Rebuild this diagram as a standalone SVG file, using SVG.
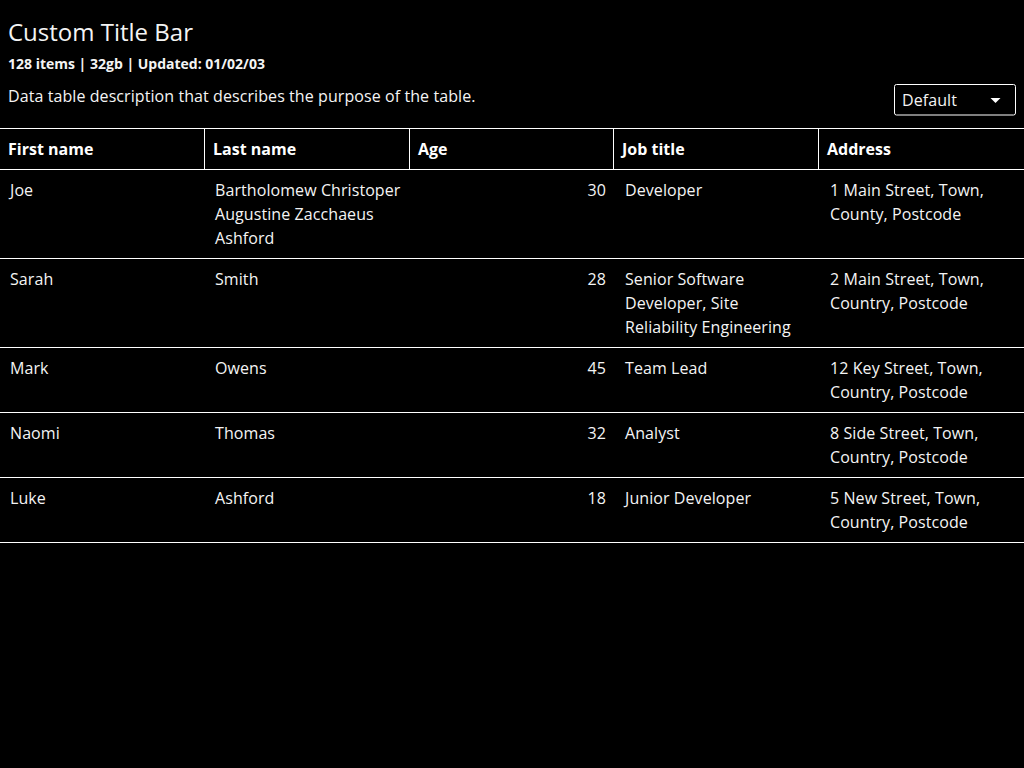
<svg xmlns="http://www.w3.org/2000/svg" width="1024" height="768" viewBox="0 0 1024 768">
<style>
text { font-family: "Open Sans", "Noto Sans", sans-serif; fill: #f4f4f4; }
.title { font-size: 24px; }
.meta { font-size: 14px; font-weight: 700; }
.desc { font-size: 16px; letter-spacing: 0.08px; }
.th { font-size: 16px; font-weight: 700; fill: #ffffff; }
.td { font-size: 16px; letter-spacing: 0.08px; }
.num { text-anchor: end; }
.rule { stroke: #ffffff; stroke-width: 1; fill: none; }
</style>
<rect x="0" y="0" width="1024" height="768" fill="#000000"/>
<g id="header">
<text class="title" x="8" y="41">Custom Title Bar</text>
<text class="meta" x="8" y="68.5">128 items | 32gb | Updated: 01/02/03</text>
<text class="desc" x="8" y="102">Data table description that describes the purpose of the table.</text>
</g>
<g id="dropdown">
<rect x="894.5" y="84.5" width="121" height="30.5" rx="2" fill="#000000" stroke="#ffffff" stroke-width="1"/>
<text class="td" x="902" y="105.5">Default</text>
<polygon points="990.5,98 1000.5,98 995.5,103" fill="#ffffff"/>
</g>
<g id="grid">
<line class="rule" x1="0" y1="128.5" x2="1024" y2="128.5"/>
<line class="rule" x1="0" y1="169.5" x2="1024" y2="169.5"/>
<line class="rule" x1="204.5" y1="128.5" x2="204.5" y2="169.5"/>
<line class="rule" x1="409.5" y1="128.5" x2="409.5" y2="169.5"/>
<line class="rule" x1="613.5" y1="128.5" x2="613.5" y2="169.5"/>
<line class="rule" x1="818.5" y1="128.5" x2="818.5" y2="169.5"/>
<line class="rule" x1="0" y1="258.5" x2="1024" y2="258.5"/>
<line class="rule" x1="0" y1="347.5" x2="1024" y2="347.5"/>
<line class="rule" x1="0" y1="412.5" x2="1024" y2="412.5"/>
<line class="rule" x1="0" y1="477.5" x2="1024" y2="477.5"/>
<line class="rule" x1="0" y1="542.5" x2="1024" y2="542.5"/>
</g>
<g id="table-head">
<text class="th" x="8" y="155">First name</text>
<text class="th" x="213" y="155">Last name</text>
<text class="th" x="418" y="155">Age</text>
<text class="th" x="622" y="155">Job title</text>
<text class="th" x="827" y="155">Address</text>
</g>
<g id="row-1">
<text class="td" x="10" y="196">Joe</text>
<text class="td" x="215" y="196">Bartholomew Christoper</text>
<text class="td" x="215" y="220">Augustine Zacchaeus</text>
<text class="td" x="215" y="244">Ashford</text>
<text class="td num" x="606" y="196">30</text>
<text class="td" x="625" y="196">Developer</text>
<text class="td" x="830" y="196">1 Main Street, Town,</text>
<text class="td" x="830" y="220">County, Postcode</text>
</g>
<g id="row-2">
<text class="td" x="10" y="285">Sarah</text>
<text class="td" x="215" y="285">Smith</text>
<text class="td num" x="606" y="285">28</text>
<text class="td" x="625" y="285">Senior Software</text>
<text class="td" x="625" y="309">Developer, Site</text>
<text class="td" x="625" y="333">Reliability Engineering</text>
<text class="td" x="830" y="285">2 Main Street, Town,</text>
<text class="td" x="830" y="309">Country, Postcode</text>
</g>
<g id="row-3">
<text class="td" x="10" y="374">Mark</text>
<text class="td" x="215" y="374">Owens</text>
<text class="td num" x="606" y="374">45</text>
<text class="td" x="625" y="374">Team Lead</text>
<text class="td" x="830" y="374">12 Key Street, Town,</text>
<text class="td" x="830" y="398">Country, Postcode</text>
</g>
<g id="row-4">
<text class="td" x="10" y="439">Naomi</text>
<text class="td" x="215" y="439">Thomas</text>
<text class="td num" x="606" y="439">32</text>
<text class="td" x="625" y="439">Analyst</text>
<text class="td" x="830" y="439">8 Side Street, Town,</text>
<text class="td" x="830" y="463">Country, Postcode</text>
</g>
<g id="row-5">
<text class="td" x="10" y="504">Luke</text>
<text class="td" x="215" y="504">Ashford</text>
<text class="td num" x="606" y="504">18</text>
<text class="td" x="625" y="504">Junior Developer</text>
<text class="td" x="830" y="504">5 New Street, Town,</text>
<text class="td" x="830" y="528">Country, Postcode</text>
</g>
</svg>
